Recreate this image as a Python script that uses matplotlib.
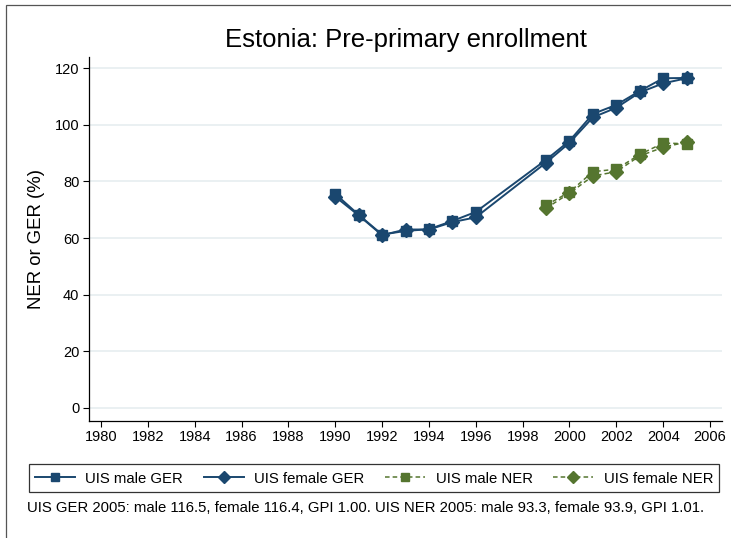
import matplotlib
matplotlib.use('Agg')
from matplotlib import pyplot as plt
import matplotlib.patches as patches
import numpy as np

plt.rcParams['font.family'] = ['Liberation Sans', 'DejaVu Sans']

# values
years_ger = [1990, 1991, 1992, 1993, 1994, 1995, 1996, 1999, 2000, 2001, 2002, 2003, 2004, 2005]
male_ger = [75.6, 68.2, 61.2, 62.5, 63.1, 66.0, 69.2, 87.6, 94.3, 103.8, 107.0, 111.9, 116.4, 116.5]
female_ger = [74.6, 68.0, 61.0, 63.0, 63.0, 65.6, 67.3, 86.6, 93.6, 102.6, 106.0, 111.4, 114.6, 116.4]

years_ner = [1999, 2000, 2001, 2002, 2003, 2004, 2005]
male_ner = [71.6, 76.2, 83.4, 84.3, 89.5, 93.5, 93.3]
female_ner = [70.5, 75.8, 81.9, 83.4, 89.0, 92.0, 93.9]

xticks = list(range(1980, 2007, 2))
yticks = list(range(0, 121, 20))

note = "UIS GER 2005: male 116.5, female 116.4, GPI 1.00. UIS NER 2005: male 93.3, female 93.9, GPI 1.01."

navy = '#1a476f'
green = '#55752f'

fig = plt.figure(figsize=(7.31, 5.38), dpi=100)
ax = fig.add_axes([89/731, 1-420.7/538, (722-89)/731, (420.7-57)/538])

ax.plot(years_ger, male_ger, color=navy, marker='s', ms=7, lw=1.4, label='UIS male GER')
ax.plot(years_ger, female_ger, color=navy, marker='D', ms=7.5, lw=1.4, label='UIS female GER')
ax.plot(years_ner, male_ner, color=green, marker='s', ms=7, lw=1.1, ls=(0, (3, 2)), label='UIS male NER')
ax.plot(years_ner, female_ner, color=green, marker='D', ms=7.5, lw=1.1, ls=(0, (3, 2)), label='UIS female NER')

ax.set_xlim(1979.49, 2006.51)
ax.set_ylim(-4.5, 123.9)
ax.set_xticks(xticks)
ax.set_yticks(yticks)
ax.tick_params(labelsize=10.5, direction='out', length=4.5, width=0.8, pad=2.5)
ax.grid(axis='y', color='#e6edf0', lw=1.2)
ax.set_axisbelow(True)
for s in ['top', 'right']:
    ax.spines[s].set_visible(False)
ax.spines['left'].set_linewidth(0.9)
ax.spines['bottom'].set_linewidth(0.9)
ax.set_ylabel('NER or GER (%)', fontsize=13.4)
ax.yaxis.set_label_coords(-(89-45)/633, 0.5)

fig.text(406/731, 1-40/538, 'Estonia: Pre-primary enrollment', fontsize=18.5, ha='center', va='center')

leg = fig.legend(loc='lower left', bbox_to_anchor=(29/731, 1-492/538, 690/731, 34/538),
                 mode='expand', ncol=4, fontsize=10.7, frameon=True, fancybox=False,
                 edgecolor='black', handlelength=2.7, handletextpad=0.7, borderaxespad=0,
                 handleheight=1.2, markerscale=0.85)
leg.get_frame().set_linewidth(0.9)

fig.text(27/731, 1-508/538, note, fontsize=10.7, ha='left', va='center')

# outer frame like the reference (only top and left visible)
fig.patches.append(patches.Rectangle((6/731, -0.05), 1.1, 1-5/538+0.05, transform=fig.transFigure,
                                     fill=False, edgecolor='#555555', lw=0.9))

fig.savefig('out.png', dpi=100)
